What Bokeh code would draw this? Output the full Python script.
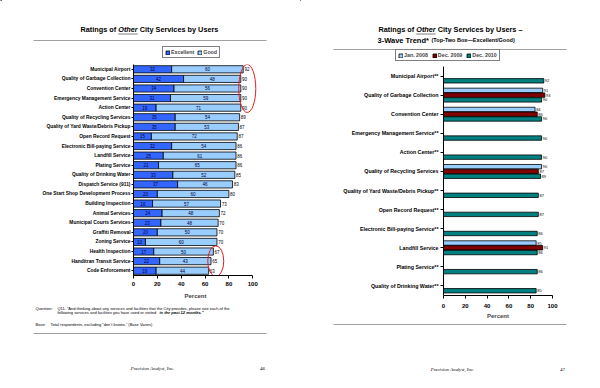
from bokeh.plotting import figure
from bokeh.models import (ColumnDataSource, FactorRange, Range1d, Label, Legend,
                          LegendItem, BoxAnnotation)
from bokeh.layouts import row, column
from bokeh.transform import dodge
from bokeh.core.properties import value
from bokeh.embed import file_html
from bokeh.resources import INLINE

FONT = "Liberation Sans"
SERIF = "Liberation Serif"

# ---------------- data: left page ----------------
left_services = [
    "Municipal Airport", "Quality of Garbage Collection", "Convention Center",
    "Emergency Management Service", "Action Center", "Quality of Recycling Services",
    "Quality of Yard Waste/Debris Pickup", "Open Record Request",
    "Electronic Bill-paying Service", "Landfill Service", "Plating Service",
    "Quality of Drinking Water", "Dispatch Service (911)",
    "One Start Shop Development Process", "Building Inspection", "Animal Services",
    "Municipal Courts Services", "Graffiti Removal", "Zoning Service",
    "Health Inspection", "Handitran Transit Service", "Code Enforcement",
]
excellent = [32, 42, 34, 31, 19, 35, 35, 15, 32, 25, 21, 33, 37, 20, 16, 24, 23, 20, 10, 17, 22, 19]
good = [60, 48, 56, 59, 71, 54, 53, 72, 54, 61, 65, 52, 46, 60, 57, 48, 48, 50, 60, 50, 43, 44]
totals = [92, 90, 90, 90, 90, 89, 87, 87, 86, 86, 86, 85, 83, 80, 73, 72, 70, 70, 70, 67, 65, 63]
left_series = ["Excellent", "Good"]
left_colors = ["#3366FF", "#99CCFF"]

# ---------------- data: right page ----------------
right_services = [
    "Municipal Airport**", "Quality of Garbage Collection", "Convention Center",
    "Emergency Management Service**", "Action Center**", "Quality of Recycling Services",
    "Quality of Yard Waste/Debris Pickup**", "Open Record Request**",
    "Electronic Bill-paying Service**", "Landfill Service", "Plating Service**",
    "Quality of Drinking Water**",
]
jan_2008 = [None, 91, 84, None, None, 90, None, None, None, 85, None, None]
dec_2009 = [None, 93, 86, None, None, 87, None, None, None, 91, None, None]
dec_2010 = [92, 90, 90, 90, 90, 89, 87, 87, 86, 86, 86, 85]
right_series = ["Jan. 2008", "Dec. 2009", "Dec. 2010"]
right_colors = ["#99CCFF", "#800000", "#008080"]

x_ticks = [0, 20, 40, 60, 80, 100]

PAGE_W = 300


# ---------------- helpers ----------------
def canvas(x0, y0, h):
    """A plain drawing area whose data coordinates are page pixels."""
    p = figure(width=PAGE_W, height=h, x_range=Range1d(x0, x0 + PAGE_W),
               y_range=Range1d(y0 + h, y0), x_axis_type=None, y_axis_type=None,
               output_backend="svg", toolbar_location=None, min_border=0,
               frame_align=False)
    p.outline_line_color = None
    p.xgrid.visible = False
    p.ygrid.visible = False
    return p


def txt(p, x, y, text, size, style="normal", align="left", font=FONT, color="black"):
    p.add_layout(Label(x=x, y=y, text=text, text_font=font, text_font_size=size,
                       text_font_style=style, text_align=align,
                       text_baseline="middle", text_color=color))


def rule(p, x0, x1, y, thick, color):
    p.add_layout(BoxAnnotation(left=x0, right=x1, top=y - thick / 2, bottom=y + thick / 2,
                               fill_color=color, fill_alpha=1, line_color=None,
                               level="overlay"))


def chart(y_factors, xr, bl, bt, fw, fh, bb):
    p = figure(frame_width=fw, frame_height=fh, width=PAGE_W, height=bt + fh + bb,
               y_range=FactorRange(factors=y_factors), x_range=xr,
               output_backend="svg", toolbar_location=None,
               min_border_left=bl, min_border_top=bt,
               min_border_right=PAGE_W - bl - fw, min_border_bottom=bb,
               frame_align=False)
    p.outline_line_color = None
    p.xgrid.visible = False
    p.ygrid.visible = False
    for ax in (p.xaxis[0], p.yaxis[0]):
        ax.axis_line_color = "black"
        ax.major_tick_line_color = "black"
        ax.minor_tick_line_color = None
        ax.major_tick_in = 0
        ax.major_label_text_font = FONT
        ax.major_label_text_font_style = "bold"
        ax.major_label_text_color = "black"
    p.xaxis.ticker = x_ticks
    p.xaxis.bounds = (0, 100)
    p.xaxis.axis_label = "Percent"
    p.xaxis.axis_label_text_font = FONT
    p.xaxis.axis_label_text_font_style = "bold"
    p.xaxis.axis_label_text_font_size = "6px"
    p.xaxis.major_label_text_font_size = "6px"
    p.xaxis.major_tick_out = 3
    return p


def legend(p, labels, colors, vx, vy, spacing):
    items = []
    for lab, col in zip(labels, colors):
        # swatch renderer: its only bar lies outside the visible area
        src = ColumnDataSource(dict(y=[-500], r=[1]))
        r = p.hbar(y="y", right="r", left=0, height=1, fill_color=col,
                   line_color="black", line_width=0.8, source=src)
        items.append(LegendItem(label=lab, renderers=[r]))
    p.add_layout(Legend(items=items, location=(vx, vy), orientation="horizontal",
                        border_line_color="black", border_line_width=1,
                        background_fill_color="white", background_fill_alpha=1,
                        padding=2, spacing=spacing, margin=0, glyph_width=5,
                        glyph_height=5, label_height=5, label_width=5,
                        label_standoff=1, label_text_font=FONT,
                        label_text_font_size="5.3px", label_text_font_style="bold",
                        label_text_baseline="middle"))


# ================= LEFT PAGE =================
lh = canvas(0, 0, 60)
txt(lh, 115.7, 29, "Ratings of", "7.3px", "bold", "right")
txt(lh, 117.7, 29, "Other", "7.3px", "bold italic")
txt(lh, 139.2, 29, "City Services by Users", "7.3px", "bold")
rule(lh, 117.7, 137.2, 33.5, 0.7, "black")
rule(lh, 33, 266, 40, 1, "#A0A0A0")
legend(lh, left_series, left_colors, 162, 2, 3)

p1 = chart(list(reversed(left_services)), Range1d(0, 104), 133, 4, 124, 211, 25)
p1.yaxis.major_label_text_font_size = "4.9px"
p1.yaxis.major_tick_out = 2
p1.yaxis.major_label_standoff = 1
p1.xaxis.major_label_standoff = 3
p1.xaxis.axis_label_standoff = 4

ends = [e + g for e, g in zip(excellent, good)]
src1 = ColumnDataSource(dict(
    service=left_services, excellent=excellent, good=good,
    ex_mid=[e / 2 for e in excellent],
    good_mid=[e + g / 2 for e, g in zip(excellent, good)],
    ex_txt=[str(v) for v in excellent], good_txt=[str(v) for v in good],
    tot_x=[v + 1 for v in ends], tot_txt=[str(v) for v in totals],
))
rs1 = p1.hbar_stack(["excellent", "good"], y="service", height=0.75,
                    fill_color=left_colors, line_color="black", line_width=0.8,
                    source=src1)
for xcol, tcol in (("ex_mid", "ex_txt"), ("good_mid", "good_txt")):
    p1.text(x=xcol, y="service", text=tcol, source=src1, text_font=value(FONT),
            text_font_size="4.5px", text_align="center", text_baseline="middle",
            text_color="#000033")
p1.text(x="tot_x", y="service", text="tot_txt", source=src1, text_font=value(FONT),
        text_font_size="4.5px", text_align="left", text_baseline="middle",
        text_color="black")
p1.ellipse(x=[95.4], y=[left_services[2]], width=14.3, height=5.0,
           fill_color=None, line_color="#E02020", line_width=1)
p1.ellipse(x=[69], y=[left_services[20]], width=13.4, height=3.2,
           fill_color=None, line_color="#E02020", line_width=1)

lf = canvas(0, 300, 88)
txt(lf, 35, 306.5, "Question:", "4px")
txt(lf, 57, 306.5,
    "Q11.  \u201cAnd thinking about any services and facilities that the City provides, please rate each of the",
    "4px")
txt(lf, 57, 311, "following services and facilities you have used or visited", "4px")
txt(lf, 159, 311, "in the past 12 months.\u201d", "4px", "bold italic")
txt(lf, 35, 322.5, "Base:", "4px")
txt(lf, 50, 322.5, "Total respondents, excluding \u201cdon\u2019t knows.\u201d (Base Varies)", "4px")
rule(lf, 33, 266, 332, 1, "#A0A0A0")
txt(lf, 152, 367, "Precision Analyst, Inc.", "4.8px", "italic", "center", SERIF)
txt(lf, 262, 367, "46", "5px", "normal", "center", SERIF)

# ================= RIGHT PAGE =================
rh = canvas(300, 0, 62)
txt(rh, 413.7, 29, "Ratings of", "7.3px", "bold", "right")
txt(rh, 415.7, 29, "Other", "7.3px", "bold italic")
txt(rh, 437.2, 29, "City Services by Users \u2013", "7.3px", "bold")
rule(rh, 415.7, 435.2, 33.5, 0.7, "black")
txt(rh, 377, 39.5, "3-Wave Trend*", "7.5px", "bold")
txt(rh, 431, 39.5, "(Top-Two Box\u2014Excellent/Good)", "5.5px", "bold")
rule(rh, 333, 566, 49, 1, "#A0A0A0")
legend(rh, right_series, right_colors, 95, 1, 4)

p2 = chart(list(reversed(right_services)), Range1d(0, 100), 143, 4, 109, 229, 24)
p2.yaxis.major_label_text_font_size = "5.3px"
p2.yaxis.major_tick_out = 3
p2.yaxis.major_label_standoff = 2
p2.xaxis.major_label_standoff = 5
p2.xaxis.axis_label_standoff = 2

offsets = [0.25, 0.0, -0.25]
for vals, color, off in zip([jan_2008, dec_2009, dec_2010], right_colors, offsets):
    idx = [i for i, v in enumerate(vals) if v is not None]
    s = ColumnDataSource(dict(
        service=[right_services[i] for i in idx],
        val=[vals[i] for i in idx],
        lx=[vals[i] + 1 for i in idx],
        txt=[str(vals[i]) for i in idx],
    ))
    ydod = dodge("service", off, range=p2.y_range)
    p2.hbar(y=ydod, right="val", left=0, height=0.23, fill_color=color,
            line_color="black", line_width=0.8, source=s)
    p2.text(x="lx", y=ydod, text="txt", source=s, text_font=value(FONT),
            text_font_size="4px", text_align="left", text_baseline="middle",
            text_color="black")

rf = canvas(300, 319, 69)
rule(rf, 333, 566, 322, 1, "#A0A0A0")
txt(rf, 452, 367, "Precision Analyst, Inc.", "4.8px", "italic", "center", SERIF)
txt(rf, 562, 367, "47", "5px", "normal", "center", SERIF)

layout = row(column(lh, p1, lf), column(rh, p2, rf))
open("out.html", "w").write(file_html(layout, INLINE))
